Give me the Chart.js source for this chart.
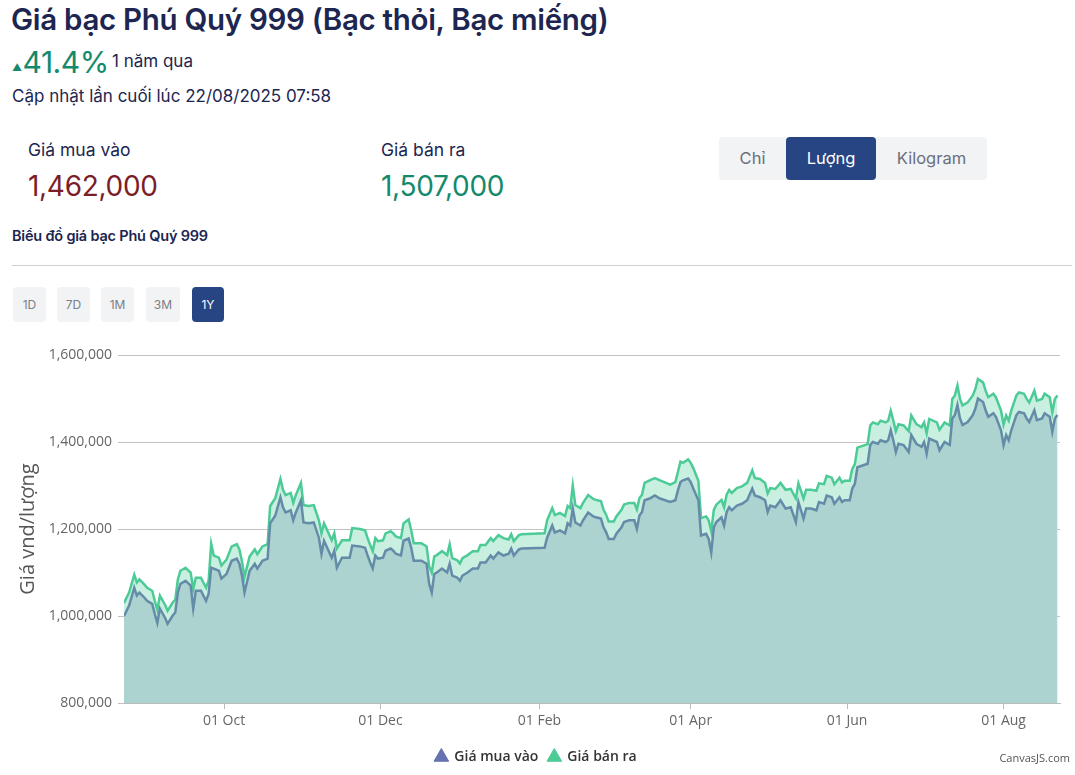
<!DOCTYPE html>
<html lang="vi">
<head>
<meta charset="utf-8">
<script src="https://cdn.jsdelivr.net/npm/chart.js@4.4.1/dist/chart.umd.min.js"></script>
<style>
  html, body { margin:0; padding:0; background:#fff; }
  body { width:1075px; height:775px; position:relative; overflow:hidden; font-family:"Inter","Open Sans",sans-serif; color:#1c2651; }
  .abs { position:absolute; white-space:nowrap; }
  #title { left:11px; top:1px; font-size:29.5px; font-weight:600; line-height:36px; color:#1c2651; letter-spacing:-0.3px; }
  #chg { left:12px; top:44px; font-size:30px; line-height:36px; color:#14896c; letter-spacing:-0.5px; }
  #chg .car { font-size:10px; vertical-align:top; position:relative; top:5px; margin-right:1px; }
  #chgLbl { left:112px; top:51px; font-size:17px; color:#1c2651; }
  #upd { left:12px; top:86px; font-size:17px; color:#1c2651; }
  .lbl { font-size:17.5px; color:#1c2651; top:139px; }
  .val { font-size:28px; top:169px; letter-spacing:-0.3px; }
  #grp { left:719px; top:137px; width:268px; height:43px; background:#f2f3f5; border-radius:4px; }
  .gb { position:absolute; top:0; height:43px; line-height:43px; text-align:center; font-size:16.5px; color:#6b6f7a; border-radius:4px; }
  .gb.on { background:#274582; color:#fff; }
  #sub { left:12px; top:227px; font-size:14.5px; font-weight:600; color:#1c2651; letter-spacing:-0.2px; }
  #hr { left:12px; top:265px; width:1060px; height:1px; background:#cfcfd4; }
  .pb { position:absolute; top:287px; height:35px; line-height:35px; text-align:center; font-size:12px; color:#7a7e88; background:#f2f3f5; border-radius:4px; }
  .pb.on { background:#274582; color:#fff; }
  #wrap { position:absolute; left:0; top:335px; width:1075px; height:440px; }
  #credit { right:5px; top:750px; font-size:11px; color:#555; font-family:"Open Sans",sans-serif; }
</style>
</head>
<body>
<div class="abs" id="title">Giá bạc Phú Quý 999 (Bạc thỏi, Bạc miếng)</div>
<div class="abs" id="chg"><span class="car">▲</span>41.4%</div>
<div class="abs" id="chgLbl">1 năm qua</div>
<div class="abs" id="upd">Cập nhật lần cuối lúc 22/08/2025 07:58</div>
<div class="abs lbl" style="left:28px;">Giá mua vào</div>
<div class="abs val" style="left:28px;color:#7b1e27;">1,462,000</div>
<div class="abs lbl" style="left:381px;">Giá bán ra</div>
<div class="abs val" style="left:381px;color:#14896c;">1,507,000</div>
<div class="abs" id="grp">
  <div class="gb" style="left:0;width:67px;">Chỉ</div>
  <div class="gb on" style="left:67px;width:90px;">Lượng</div>
  <div class="gb" style="left:157px;width:111px;">Kilogram</div>
</div>
<div class="abs" id="sub">Biểu đồ giá bạc Phú Quý 999</div>
<div class="abs" id="hr"></div>
<div class="pb" style="left:13px;width:33px;">1D</div>
<div class="pb" style="left:57px;width:33px;">7D</div>
<div class="pb" style="left:101px;width:33px;">1M</div>
<div class="pb" style="left:146px;width:34px;">3M</div>
<div class="pb on" style="left:192px;width:32px;">1Y</div>
<div id="wrap"><canvas id="c"></canvas></div>
<div class="abs" id="credit">CanvasJS.com</div>
<script>
// Day offsets counted from 22/08/2024
const days = [1,3,5,6,7,9,10,12,13,14,15,17,18,20,21,22,23,25,27,28,29,31,33,34,35,36,38,39,41,43,45,46,47,48,50,52,53,55,57,58,60,62,63,64,66,67,68,70,71,73,75,77,78,79,82,83,84,86,89,90,
93,95,96,97,98,99,100,102,103,105,106,107,109,110,112,113,114,117,119,120,121,122,123,125,127,128,129,131,132,133,135,137,139,140,142,144,145,147,149,151,152,153,155,156,165,166,168,169,171,173,174,175,176,177,179,180,182,184,
185,187,188,189,190,192,193,195,196,198,200,201,202,203,204,206,208,210,214,216,217,218,219,221,222,223,225,226,228,229,230,231,232,234,235,236,237,238,240,242,244,246,247,249,251,252,253,255,257,259,261,263,264,266,267,269,271,272,
274,275,277,278,280,281,282,284,285,286,287,289,291,292,293,295,296,298,299,300,301,302,303,305,307,308,310,312,313,314,315,318,319,321,323,324,325,326,327,328,330,332,333,334,336,337,338,340,341,343,344,345,346,347,349,350,352,353,354,356,357,359,360,362,363,364,365];

// Giá mua vào (thousand VND / lượng)
const buyK = [1000,1024,1065,1047,1054,1042,1035,1028,1005,984,1017,996,982,1001,1008,1054,1074,1081,1070,1017,1058,1058,1035,1051,1111,1109,1104,1086,1097,1127,1132,1120,1093,1054,1104,1120,1109,1127,1132,1213,1231,1273,1250,1238,1243,1220,1238,1266,1215,1213,1215,1180,1143,1173,1134,1150,1111,1134,1134,1162,
1160,1157,1139,1123,1109,1139,1132,1134,1150,1155,1150,1143,1139,1173,1178,1157,1127,1127,1120,1074,1054,1097,1100,1109,1100,1120,1093,1088,1081,1093,1100,1109,1109,1123,1123,1139,1132,1146,1139,1143,1155,1139,1153,1155,1157,1180,1208,1192,1197,1190,1213,1208,1247,1215,1208,1220,1238,1229,
1227,1224,1204,1193,1177,1177,1189,1204,1216,1220,1220,1200,1231,1239,1266,1270,1277,1270,1262,1266,1289,1308,1312,1316,1308,1293,1266,1185,1189,1177,1146,1204,1216,1227,1208,1239,1250,1243,1254,1258,1266,1293,1277,1273,1266,1239,1254,1250,1266,1247,1250,1216,1262,1224,1247,1247,1243,1262,
1258,1277,1273,1258,1273,1262,1266,1266,1293,1304,1342,1346,1350,1393,1400,1396,1404,1400,1404,1427,1404,1377,1396,1393,1377,1416,1396,1389,1400,1373,1408,1400,1381,1400,1393,1454,1462,1485,1454,1439,1446,1462,1477,1500,1492,1473,1458,1466,1458,1427,1393,1416,1404,1427,1462,1469,1466,1454,1446,1473,1450,1454,1466,1458,1423,1454,1462];

// Giá bán ra (thousand VND / lượng)
const sellK = [1030,1054,1095,1077,1084,1072,1065,1058,1035,1014,1047,1026,1012,1031,1038,1084,1104,1111,1100,1062,1088,1088,1065,1081,1166,1139,1134,1116,1130,1160,1165,1153,1126,1090,1137,1153,1142,1160,1165,1253,1271,1315,1290,1278,1283,1260,1278,1306,1255,1253,1255,1220,1190,1213,1174,1190,1155,1174,1174,1202,
1200,1197,1179,1163,1149,1179,1172,1174,1190,1195,1190,1183,1179,1213,1222,1197,1167,1167,1160,1114,1100,1137,1140,1149,1140,1165,1133,1128,1121,1133,1140,1149,1149,1163,1163,1179,1172,1186,1179,1176,1188,1172,1186,1188,1190,1220,1248,1232,1237,1230,1253,1248,1300,1255,1248,1260,1278,1269,
1267,1264,1244,1233,1217,1217,1229,1244,1256,1260,1260,1245,1271,1279,1306,1312,1317,1312,1302,1308,1331,1355,1352,1360,1352,1340,1310,1225,1229,1220,1195,1244,1256,1267,1250,1279,1290,1283,1294,1298,1306,1335,1317,1315,1306,1282,1294,1292,1306,1290,1292,1270,1305,1270,1290,1290,1288,1305,
1303,1322,1318,1303,1318,1307,1311,1311,1338,1349,1387,1391,1395,1438,1445,1441,1449,1445,1449,1472,1449,1425,1441,1438,1425,1461,1441,1434,1445,1420,1453,1445,1428,1445,1438,1499,1507,1530,1499,1484,1491,1507,1522,1545,1537,1518,1503,1511,1503,1472,1440,1461,1449,1472,1507,1514,1511,1499,1491,1518,1495,1499,1511,1503,1468,1499,1507];

const seriesNames = ["Giá mua vào", "Giá bán ra"];
const xTickDays = [40, 101, 163, 222, 283, 344];
const xTickLabels = ["01 Oct", "01 Dec", "01 Feb", "01 Apr", "01 Jun", "01 Aug"];
const yTicks = [800000, 1000000, 1200000, 1400000, 1600000];
const yTitle = "Giá vnd/lượng";

const buyPts = days.map((d, i) => ({ x: d, y: buyK[i] * 1000 }));
const sellPts = days.map((d, i) => ({ x: d, y: sellK[i] * 1000 }));
const legendColors = ["#6672b0", "#4ccb97"];

new Chart(document.getElementById("c"), {
  type: "line",
  data: {
    datasets: [
      { label: seriesNames[0], data: buyPts, borderColor: "#648ca8", backgroundColor: "#acd3cf", borderWidth: 2.5, pointRadius: 0, fill: "start", tension: 0 },
      { label: seriesNames[1], data: sellPts, borderColor: "#4ccb97", backgroundColor: "#c9efe0", borderWidth: 2.5, pointRadius: 0, fill: "start", tension: 0 }
    ]
  },
  options: {
    responsive: true,
    maintainAspectRatio: false,
    animation: false,
    layout: { padding: { left: 12, right: 15, top: 20, bottom: 1 } },
    plugins: {
      tooltip: { enabled: false },
      legend: {
        position: "bottom",
        labels: {
          usePointStyle: true,
          pointStyle: "triangle",
          boxWidth: 12, boxHeight: 12,
          padding: 10,
          color: "#333",
          font: { family: "Open Sans", size: 14, weight: "600" },
          generateLabels: (chart) => chart.data.datasets.map((ds, i) => ({
            text: ds.label, fillStyle: legendColors[i], strokeStyle: legendColors[i], lineWidth: 1,
            pointStyle: "triangle", datasetIndex: i, hidden: false, fontColor: "#333"
          }))
        }
      }
    },
    scales: {
      x: {
        type: "linear",
        min: 1, max: 366,
        afterBuildTicks: (s) => { s.ticks = xTickDays.map(v => ({ value: v })); },
        afterFit: (s) => { s.height = 37; },
        grid: { drawOnChartArea: false, drawTicks: true, tickLength: 6, color: "#bbb" },
        border: { display: true, color: "#bbb" },
        ticks: {
          autoSkip: false, maxRotation: 0, padding: 4, color: "#666",
          font: { family: "Open Sans", size: 14 },
          callback: (v) => { const k = xTickDays.indexOf(v); return k >= 0 ? xTickLabels[k] : ""; }
        }
      },
      y: {
        min: 800000, max: 1600000,
        z: 1,
        afterBuildTicks: (s) => { s.ticks = yTicks.map(v => ({ value: v })); },
        afterFit: (s) => { s.width = 112; },
        grid: { color: "rgba(0,0,0,0.24)", tickLength: 6, drawTicks: true },
        border: { display: false },
        title: { display: true, text: yTitle, color: "#555", font: { family: "Open Sans", size: 20 }, padding: { top: 4, bottom: 0 } },
        ticks: {
          padding: 6, color: "#666", font: { family: "Open Sans", size: 14 },
          callback: (v) => v.toLocaleString("en-US")
        }
      }
    }
  }
});
</script>
</body>
</html>
